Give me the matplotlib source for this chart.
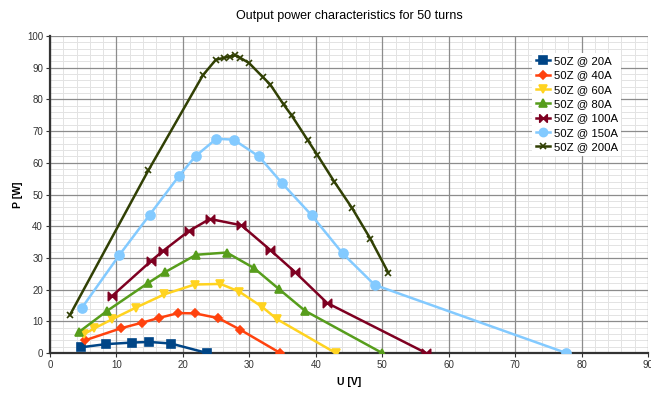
import numpy as np
import matplotlib
matplotlib.use('Agg')
import matplotlib.pyplot as plt
from matplotlib.path import Path
from matplotlib.ticker import MultipleLocator

plt.rcParams['font.family'] = ['Liberation Sans', 'DejaVu Sans']

# data
u_20 = [4.65, 8.4, 12.35, 14.9, 18.2, 23.65]
p_20 = [1.8, 2.8, 3.3, 3.5, 3.0, 0.0]

u_40 = [5.25, 10.75, 13.9, 16.45, 19.3, 21.85, 25.35, 28.6, 34.65]
p_40 = [4.0, 7.85, 9.6, 11.1, 12.6, 12.5, 11.0, 7.4, 0.0]

u_60 = [5.15, 6.65, 9.3, 12.9, 17.2, 21.75, 25.65, 28.45, 31.9, 34.15, 43.0]
p_60 = [6.0, 7.75, 10.6, 14.3, 18.5, 21.6, 21.8, 19.4, 14.6, 10.7, 0.0]

u_80 = [4.4, 8.6, 14.7, 17.3, 22.0, 26.6, 30.7, 34.5, 38.4, 50.0]
p_80 = [6.7, 13.3, 22.0, 25.5, 31.0, 31.7, 26.8, 20.1, 13.3, 0.0]

u_100 = [9.4, 15.25, 16.95, 20.85, 24.05, 28.8, 33.15, 36.9, 41.7, 56.6]
p_100 = [18.1, 29.1, 32.1, 38.4, 42.3, 40.3, 32.5, 25.5, 15.8, 0.0]

u_150 = [4.75, 10.4, 15.0, 19.4, 21.9, 25.05, 27.65, 31.45, 34.95, 39.4, 44.05, 48.85, 77.7]
p_150 = [14.1, 30.8, 43.6, 55.8, 62.1, 67.6, 67.3, 62.0, 53.5, 43.4, 31.4, 21.5, 0.0]

u_200 = [3.0, 14.8, 23.0, 24.95, 26.15, 27.05, 27.9, 28.65, 29.95, 32.05, 33.15,
         35.15, 36.35, 38.8, 40.2, 42.8, 45.5, 48.2, 50.9]
p_200 = [12.0, 57.6, 87.6, 92.5, 93.1, 93.5, 93.9, 93.1, 91.5, 87.0, 84.7,
         78.4, 75.0, 67.1, 62.6, 54.0, 45.6, 36.1, 25.4]

labels = ['50Z @ 20A', '50Z @ 40A', '50Z @ 60A', '50Z @ 80A',
          '50Z @ 100A', '50Z @ 150A', '50Z @ 200A']
colors = ['#004586', '#ff420e', '#ffd320', '#579d1c', '#7e0021', '#83caff', '#314004']

# bowtie marker like the one LibreOffice uses
bowtie = Path([(-1, 1), (0, 0), (1, 1), (1, -1), (0, 0), (-1, -1), (-1, 1)],
              [Path.MOVETO, Path.LINETO, Path.LINETO, Path.LINETO,
               Path.LINETO, Path.LINETO, Path.CLOSEPOLY])

series = [(u_20, p_20, 's', 6), (u_40, p_40, 'D', 4.5), (u_60, p_60, 'v', 6),
          (u_80, p_80, '^', 6), (u_100, p_100, bowtie, 6), (u_150, p_150, 'o', 6.5),
          (u_200, p_200, 'x', 5)]

fig = plt.figure(figsize=(6.51, 3.94), dpi=100)
ax = fig.add_axes([0.0768, 0.104, 0.9186, 0.8046])

for (u, p, m, ms), lab, c in zip(series, labels, colors):
    ax.plot(u, p, color=c, lw=1.8, marker=m, markersize=ms, markeredgecolor=c,
            markeredgewidth=1.2, label=lab, zorder=3)

ax.set_xlim(0, 90)
ax.set_ylim(0, 100)
ax.xaxis.set_major_locator(MultipleLocator(10))
ax.yaxis.set_major_locator(MultipleLocator(10))
ax.xaxis.set_minor_locator(MultipleLocator(2))
ax.yaxis.set_minor_locator(MultipleLocator(2))
ax.grid(which='minor', color='#e3e3e3', lw=0.7)
ax.set_axisbelow(True)
# major grid drawn on top of the minor one so the light lines don't break it
for v in ax.get_xticks():
    ax.axvline(v, color='#8c8c8c', lw=0.9, zorder=1)
for v in ax.get_yticks():
    ax.axhline(v, color='#8c8c8c', lw=0.9, zorder=1)
ax.set_xlim(0, 90)
ax.set_ylim(0, 100)
ax.tick_params(which='minor', length=0)
ax.tick_params(which='major', length=3, width=0.8, color='#333333',
               labelsize=7, labelcolor='#333333', pad=2)

for s in ['top', 'right']:
    ax.spines[s].set_visible(False)
for s in ['left', 'bottom']:
    ax.spines[s].set_color('#333333')
    ax.spines[s].set_linewidth(1.6)

ax.set_title('Output power characteristics for 50 turns', fontsize=9, pad=12)
ax.set_xlabel('U [V]', fontsize=7.5, fontweight='bold', labelpad=5)
ax.set_ylabel('P [W]', fontsize=7.5, fontweight='bold', labelpad=3)

leg = ax.legend(loc='upper right', bbox_to_anchor=(0.965, 0.965), fontsize=8.2,
                frameon=True, fancybox=False, edgecolor='none', framealpha=1,
                handlelength=1.3, handletextpad=0.3, labelspacing=0.38,
                borderpad=0.3, markerscale=0.9)
leg.set_zorder(5)

plt.savefig('out.png', dpi=100)
